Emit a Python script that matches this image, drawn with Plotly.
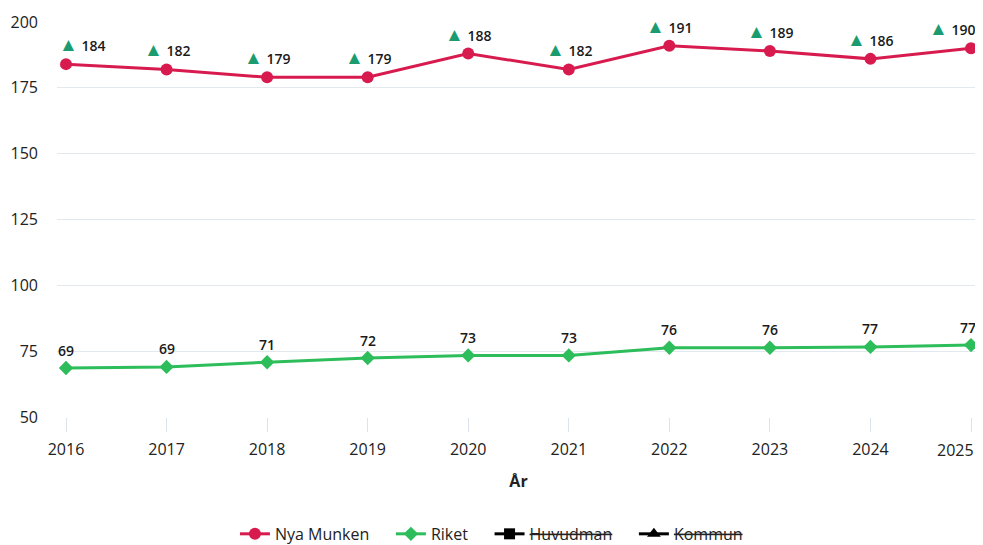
import plotly.graph_objects as go

years = [2016, 2017, 2018, 2019, 2020, 2021, 2022, 2023, 2024, 2025]
nya_munken = [184, 182, 179, 179, 188, 182, 191, 189, 186, 190]
riket = [68.6, 69.0, 70.8, 72.4, 73.4, 73.4, 76.3, 76.3, 76.6, 77.3]
y_ticks = [50, 75, 100, 125, 150, 175, 200]
series_names = ["Nya Munken", "Riket", "Huvudman", "Kommun"]

RED = "#d81b4f"
GREEN = "#2dbd5a"
TRI = "#1a9c70"
TXT = "#1a1a1a"
FONT = "Open Sans, Noto Sans, sans-serif"
PAD = "\u00a0" * 4

fig = go.Figure()
fig.add_trace(go.Scatter(
    x=years, y=nya_munken, name=series_names[0] + PAD, mode="lines+markers",
    line=dict(color=RED, width=3), marker=dict(symbol="circle", size=12, color=RED),
    cliponaxis=False,
))
fig.add_trace(go.Scatter(
    x=years, y=riket, name=series_names[1] + PAD, mode="lines+markers",
    line=dict(color=GREEN, width=3), marker=dict(symbol="diamond", size=11, color=GREEN),
    cliponaxis=False,
))
fig.add_trace(go.Scatter(
    x=[None], y=[None], name=f"<s>{series_names[2]}</s>" + PAD, mode="lines+markers",
    line=dict(color="#000000", width=3), marker=dict(symbol="square", size=11, color="#000000"),
))
fig.add_trace(go.Scatter(
    x=[None], y=[None], name=f"<s>{series_names[3]}</s>", mode="lines+markers",
    line=dict(color="#000000", width=3), marker=dict(symbol="triangle-up", size=12, color="#000000"),
))

label_font = dict(family=FONT, size=14, color=TXT, weight=600)
n = len(years)
for i, (yr, v) in enumerate(zip(years, nya_munken)):
    anchor, shift = "center", 0
    if i == 0:
        anchor, shift = "left", -9
    elif i == n - 1:
        anchor, shift = "right", 6
    fig.add_annotation(
        x=yr, y=v, xref="x", yref="y", showarrow=False,
        text=f'<span style="color:{TRI};font-size:19px">▲</span> {v:.0f}',
        xanchor=anchor, yanchor="middle", xshift=shift, yshift=20,
        font=label_font,
    )
for i, (yr, v) in enumerate(zip(years, riket)):
    anchor, shift = "center", 0
    if i == n - 1:
        anchor, shift = "right", 7
    fig.add_annotation(
        x=yr, y=v, xref="x", yref="y", showarrow=False,
        text=f"{v:.0f}", xanchor=anchor, yanchor="middle", xshift=shift, yshift=18,
        font=label_font,
    )

# last year label placed so that it stays inside the page
fig.add_annotation(
    x=years[-1], y=0, xref="x", yref="paper", showarrow=False,
    text=str(years[-1]), xanchor="right", yanchor="middle", xshift=5, yshift=-33,
    font=dict(family=FONT, size=16, color="#222222"),
)

# page body has an 8px margin, so the figure is sized 8px smaller than the window
fig.update_layout(
    width=975, height=537,
    margin=dict(l=49, r=3, t=14, b=128, autoexpand=False),
    paper_bgcolor="white", plot_bgcolor="white",
    font=dict(family=FONT, size=16, color="#222222"),
    showlegend=True,
    legend=dict(orientation="h", x=0.4707, xanchor="center", y=-0.296, yanchor="middle",
                font=dict(size=16, color="#222222"), traceorder="normal"),
    xaxis=dict(
        range=[2015.9105, 2025.0895], tickvals=years,
        ticktext=[str(y) for y in years[:-1]] + [""],
        showgrid=False, zeroline=False, showline=False, automargin=False,
        ticks="outside", ticklen=14, tickcolor="#dde3ea", tickwidth=1,
        ticklabelstandoff=4,
        tickfont=dict(size=16, color="#222222"),
        title=dict(text="<b>År</b>", font=dict(size=16, color="#222222"), standoff=16),
    ),
    yaxis=dict(
        range=[50, 200], tickvals=y_ticks, showgrid=True, gridcolor="#e3e8ee", gridwidth=1,
        zeroline=False, showline=False, ticks="", ticklabelstandoff=18, automargin=False,
        tickfont=dict(size=16, color="#222222"),
    ),
)

fig.write_html("out.html")
